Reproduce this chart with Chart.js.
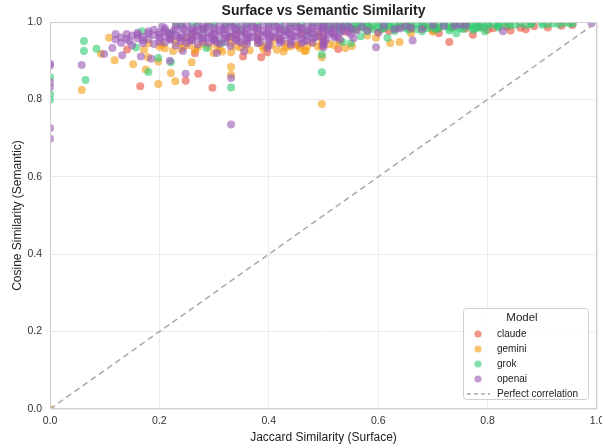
<!DOCTYPE html>
<html>
<head>
<meta charset="utf-8">
<script src="https://cdn.jsdelivr.net/npm/chart.js@4.4.0/dist/chart.umd.min.js"></script>
<style>
html,body{margin:0;padding:0;background:#fff}
</style>
</head>
<body>
<canvas id="canvasSimilitud" width="602" height="444"></canvas>
<script>
// ticks
const ticksEje = [0, 0.2, 0.4, 0.6, 0.8, 1.0];
const modelos = ['claude', 'gemini', 'grok', 'openai'];
const coloresModelo = ['#e74c3c', '#f39c12', '#2ecc71', '#9b59b6'];

// [jaccard, coseno]
const claudePts = [
  [0.141,0.929],[0.165,0.834],[0.248,0.848],[0.265,0.919],[0.271,0.866],[0.297,0.830],[0.353,0.911],[0.386,0.909],
  [0.397,0.922],[0.451,0.941],[0.497,0.938],[0.527,0.930],[0.711,0.971],[0.730,0.948],[0.773,0.967],[0.842,0.978],
  [0.22,0.958],[0.26,0.962],[0.30,0.955],[0.34,0.966],[0.38,0.960],[0.42,0.958],[0.46,0.970],[0.50,0.962],[0.54,0.975],
  [0.56,0.982],[0.585,0.985],[0.61,0.983],[0.635,0.986],[0.66,0.982],[0.685,0.987],[0.71,0.984],[0.735,0.986],
  [0.76,0.983],[0.785,0.987],[0.81,0.984],[0.835,0.988],[0.86,0.985],[0.885,0.989],[0.91,0.986],[0.935,0.990],
  [0.955,0.992],[0.62,0.977],[0.70,0.979],[0.80,0.980],[0.87,0.981]
];
const geminiPts = [
  [0,0],[0.058,0.824],[0.093,0.918],[0.108,0.959],[0.118,0.901],[0.152,0.891],[0.172,0.928],[0.175,0.877],
  [0.179,0.909],[0.198,0.840],[0.198,0.898],[0.221,0.868],[0.229,0.847],[0.259,0.896],[0.299,0.920],[0.331,0.922],
  [0.331,0.884],[0.331,0.864],[0.427,0.924],[0.457,0.933],[0.468,0.926],[0.497,0.959],[0.497,0.948],[0.497,0.909],
  [0.497,0.788],[0.552,0.938],[0.596,0.959],[0.622,0.946],[0.639,0.948],
  [0.18,0.945],[0.205,0.941],[0.23,0.946],[0.255,0.940],[0.28,0.944],[0.305,0.939],[0.33,0.945],[0.355,0.941],
  [0.38,0.946],[0.405,0.940],[0.43,0.944],[0.455,0.940],[0.48,0.946],[0.51,0.943],[0.53,0.948],
  [0.21,0.932],[0.24,0.930],[0.27,0.934],[0.31,0.929],[0.35,0.933],[0.39,0.930],[0.43,0.934],[0.47,0.938],
  [0.20,0.936],[0.225,0.925],[0.245,0.938],[0.265,0.927],[0.29,0.937],[0.315,0.924],[0.34,0.937],[0.365,0.927],
  [0.39,0.938],[0.415,0.928],[0.44,0.937],[0.465,0.925],[0.49,0.936],[0.52,0.940],[0.54,0.933],
  [0.25,0.958],[0.33,0.960],[0.41,0.956],[0.49,0.968],[0.58,0.965],[0.60,0.975],[0.66,0.970],[0.70,0.975]
];
const grokPts = [
  [0,0.857],[0,0.814],[0,0.799],[0.062,0.951],[0.062,0.925],[0.065,0.850],[0.085,0.931],[0.157,0.934],
  [0.168,0.976],[0.180,0.871],[0.198,0.907],[0.221,0.896],[0.286,0.933],[0.314,0.946],[0.331,0.831],[0.497,0.916],
  [0.497,0.870],[0.535,0.948],[0.550,0.946],[0.568,0.963],[0.617,0.959],[0.743,0.971],[0.774,0.980],[0.795,0.976],
  [0.956,0.997],
  [0.24,0.994],[0.27,0.996],[0.30,0.995],[0.32,0.997],[0.34,0.994],[0.36,0.996],[0.38,0.995],[0.40,0.997],
  [0.42,0.994],[0.44,0.996],[0.46,0.995],[0.48,0.997],[0.50,0.996],[0.52,0.998],[0.54,0.995],[0.56,0.997],
  [0.58,0.996],[0.60,0.998],[0.62,0.995],[0.64,0.997],[0.66,0.996],[0.68,0.998],[0.70,0.995],[0.72,0.997],
  [0.74,0.996],[0.76,0.998],[0.78,0.996],[0.80,0.997],[0.82,0.995],[0.84,0.998],[0.86,0.996],[0.88,0.997],
  [0.90,0.998],[0.92,0.996],[0.94,0.998],
  [0.51,0.992],[0.53,0.993],[0.55,0.991],[0.57,0.993],[0.59,0.992],[0.61,0.993],[0.63,0.991],[0.65,0.993],
  [0.67,0.992],[0.69,0.993],[0.71,0.991],[0.73,0.993],[0.75,0.992],[0.77,0.993],[0.79,0.994],[0.81,0.993],
  [0.83,0.994],[0.85,0.993],[0.88,0.995],[0.91,0.995],[0.95,0.996],
  [0.50,0.988],[0.52,0.986],[0.54,0.989],[0.56,0.987],[0.58,0.990],[0.60,0.986],[0.62,0.989],[0.64,0.987],
  [0.66,0.990],[0.68,0.988],[0.70,0.986],[0.72,0.989],[0.74,0.987],[0.76,0.990],[0.78,0.988],[0.80,0.991],
  [0.82,0.989],[0.84,0.991],[0.87,0.992],[0.90,0.993],[0.93,0.994],
  [0.51,0.982],[0.53,0.984],[0.55,0.983],[0.57,0.985],[0.59,0.982],[0.61,0.984],[0.63,0.983],[0.65,0.985],
  [0.67,0.982],[0.69,0.984],[0.71,0.983],[0.73,0.985],[0.75,0.984],[0.77,0.986],[0.79,0.985],[0.82,0.986],
  [0.53,0.978],[0.555,0.980],[0.58,0.976],[0.605,0.981],[0.63,0.977],[0.655,0.980],[0.68,0.976],[0.705,0.981],
  [0.73,0.978],[0.755,0.982],[0.78,0.984],
  [0.22,0.970],[0.28,0.980],[0.35,0.982],[0.43,0.980],[0.47,0.972],
  [0.23,0.998],[0.26,0.999],[0.29,0.998],[0.33,0.999],[0.37,0.998],[0.41,0.999],[0.45,0.998],[0.49,0.999]
];
const openaiPts = [
  [0,0.892],[0,0.887],[0,0.845],[0,0.832],[0,0.726],[0,0.698],[0.058,0.889],[0.099,0.917],[0.114,0.933],
  [0.120,0.969],[0.132,0.914],[0.166,0.911],[0.185,0.905],[0.219,0.900],[0.243,0.925],[0.248,0.866],[0.305,0.920],
  [0.331,0.855],[0.331,0.735],[0.355,0.925],[0.397,0.933],[0.596,0.935],[0.663,0.952],[0.828,0.976],[0.99,0.997],
  [0.23,0.991],[0.25,0.993],[0.27,0.990],[0.29,0.992],[0.31,0.994],[0.33,0.991],[0.35,0.993],[0.37,0.990],
  [0.39,0.993],[0.41,0.991],[0.43,0.993],[0.45,0.990],[0.47,0.993],[0.49,0.991],[0.51,0.993],[0.53,0.995],
  [0.21,0.984],[0.24,0.987],[0.26,0.983],[0.28,0.988],[0.30,0.985],[0.32,0.987],[0.34,0.983],[0.36,0.988],
  [0.38,0.985],[0.40,0.987],[0.42,0.984],[0.44,0.988],[0.46,0.985],[0.48,0.989],[0.50,0.986],[0.52,0.988],
  [0.545,0.990],[0.57,0.988],[0.61,0.991],[0.65,0.990],[0.70,0.992],[0.75,0.993],
  [0.19,0.980],[0.21,0.978],[0.23,0.981],[0.26,0.979],[0.28,0.982],[0.30,0.979],[0.32,0.981],[0.34,0.978],
  [0.36,0.982],[0.38,0.979],[0.40,0.981],[0.42,0.979],[0.44,0.982],[0.46,0.980],[0.48,0.983],[0.50,0.980],
  [0.52,0.982],[0.55,0.984],
  [0.16,0.972],[0.18,0.976],[0.20,0.973],[0.225,0.977],[0.25,0.974],[0.27,0.977],[0.29,0.973],[0.31,0.976],
  [0.33,0.972],[0.35,0.977],[0.37,0.974],[0.39,0.977],[0.41,0.973],[0.43,0.976],[0.45,0.974],[0.47,0.978],
  [0.49,0.975],[0.51,0.977],[0.535,0.979],[0.56,0.978],[0.63,0.981],[0.68,0.982],
  [0.14,0.969],[0.16,0.967],[0.18,0.970],[0.20,0.967],[0.22,0.969],[0.24,0.967],[0.26,0.970],[0.28,0.968],
  [0.30,0.970],[0.32,0.967],[0.34,0.969],[0.36,0.967],[0.38,0.970],[0.40,0.968],[0.42,0.970],[0.44,0.967],
  [0.46,0.969],[0.48,0.970],[0.51,0.970],[0.53,0.972],
  [0.13,0.960],[0.15,0.965],[0.17,0.961],[0.19,0.966],[0.21,0.962],[0.23,0.965],[0.25,0.961],[0.27,0.964],
  [0.29,0.960],[0.31,0.965],[0.33,0.962],[0.35,0.965],[0.37,0.961],[0.39,0.964],[0.41,0.962],[0.43,0.966],
  [0.45,0.962],[0.47,0.965],[0.49,0.963],[0.50,0.958],[0.52,0.966],[0.55,0.968],
  [0.14,0.956],[0.16,0.958],[0.18,0.956],[0.20,0.958],[0.22,0.957],[0.24,0.958],[0.26,0.956],[0.28,0.958],
  [0.30,0.956],[0.32,0.958],[0.34,0.957],[0.36,0.958],[0.38,0.956],[0.40,0.958],[0.42,0.957],[0.44,0.958],
  [0.46,0.956],[0.48,0.958],[0.52,0.960],
  [0.12,0.955],[0.145,0.950],[0.17,0.953],[0.20,0.949],[0.22,0.954],[0.24,0.950],[0.26,0.953],[0.28,0.949],
  [0.30,0.952],[0.32,0.948],[0.34,0.953],[0.36,0.950],[0.38,0.954],[0.40,0.950],[0.42,0.953],[0.44,0.949],
  [0.47,0.952],[0.50,0.950],[0.53,0.955],
  [0.13,0.946],[0.17,0.945],[0.21,0.947],[0.25,0.945],[0.29,0.946],[0.31,0.944],[0.35,0.946],[0.38,0.945],
  [0.42,0.946],[0.46,0.945],[0.48,0.947],
  [0.15,0.940],[0.19,0.943],[0.23,0.939],[0.27,0.942],[0.33,0.938],[0.36,0.943],[0.40,0.940],[0.44,0.942],[0.50,0.941],
  [0.205,0.988],[0.215,0.971],[0.235,0.960],[0.245,0.982],[0.255,0.952],[0.265,0.975],[0.275,0.958],[0.285,0.986],
  [0.295,0.966],[0.305,0.948],[0.315,0.980],[0.325,0.962],[0.335,0.988],[0.345,0.950],[0.355,0.972],[0.365,0.960],
  [0.375,0.985],[0.385,0.948],[0.395,0.970],[0.405,0.962],[0.415,0.987],[0.425,0.951],[0.435,0.973],[0.445,0.963],
  [0.455,0.986],[0.465,0.951],[0.475,0.974],[0.485,0.961],[0.495,0.984],[0.505,0.954],[0.515,0.972],[0.525,0.962],
  [0.535,0.986],[0.545,0.975],[0.555,0.958],
  [0.5,0.935],[0.5,0.945],[0.5,0.970],[0.5,0.990],
  [0.72,0.990],[0.74,0.991],[0.76,0.992],[0.60,0.972],[0.58,0.978],[0.64,0.983],[0.66,0.985]
];
const diagonal = [[0, 0], [1, 1]];

const puntosPorModelo = [claudePts, geminiPts, grokPts, openaiPts];

function alfa(hex, a) {
    const r = parseInt(hex.substr(1, 2), 16), g = parseInt(hex.substr(3, 2), 16), b = parseInt(hex.substr(5, 2), 16);
    return 'rgba(' + r + ',' + g + ',' + b + ',' + a + ')';
}

var datasets = modelos.map(function(m, i) {
    return {
        type: 'scatter',
        label: m,
        data: puntosPorModelo[i].map(p => ({ x: p[0], y: p[1] })),
        backgroundColor: alfa(coloresModelo[i], 0.6),
        borderWidth: 0,
        pointRadius: 4,
        pointHoverRadius: 4,
        clip: 0,
        order: 4 - i + 1
    };
});
datasets.push({
    type: 'line',
    label: 'Perfect correlation',
    data: diagonal.map(p => ({ x: p[0], y: p[1] })),
    borderColor: '#a9a9a9',
    borderWidth: 1.5,
    borderDash: [6, 4],
    pointRadius: 0,
    fill: false,
    clip: 0,
    order: 0
});

const fuente = "'Liberation Sans', Arial, sans-serif";

// titulo, marco y leyenda
const extrasPlugin = {
    id: 'extras',
    afterDraw(chart) {
        const ctx = chart.ctx, a = chart.chartArea;
        ctx.save();
        ctx.strokeStyle = '#cfcfcf';
        ctx.lineWidth = 1;
        ctx.strokeRect(a.left + 0.5, a.top + 0.5, a.right - a.left - 1, a.bottom - a.top - 1);

        ctx.fillStyle = '#222';
        ctx.font = "bold 14px " + fuente;
        ctx.textAlign = 'center';
        ctx.textBaseline = 'middle';
        ctx.fillText('Surface vs Semantic Similarity', (a.left + a.right) / 2, 11);

        // leyenda
        const bx = 463, by = 308, bw = 125, bh = 91;
        ctx.fillStyle = 'rgba(255,255,255,0.85)';
        ctx.strokeStyle = '#d0d0d0';
        ctx.beginPath();
        ctx.roundRect(bx + 0.5, by + 0.5, bw, bh, 3);
        ctx.fill();
        ctx.stroke();
        ctx.fillStyle = '#222';
        ctx.font = "11.5px " + fuente;
        ctx.fillText('Model', 522, 318);
        ctx.font = "10px " + fuente;
        ctx.textAlign = 'left';
        for (let i = 0; i < modelos.length; i++) {
            const yy = 334 + i * 15;
            ctx.fillStyle = alfa(coloresModelo[i], 0.6);
            ctx.beginPath();
            ctx.arc(478, yy, 3.6, 0, Math.PI * 2);
            ctx.fill();
            ctx.fillStyle = '#222';
            ctx.fillText(modelos[i], 497, yy);
        }
        ctx.strokeStyle = '#a9a9a9';
        ctx.lineWidth = 1.5;
        ctx.setLineDash([4, 3]);
        ctx.beginPath();
        ctx.moveTo(467, 394);
        ctx.lineTo(490, 394);
        ctx.stroke();
        ctx.setLineDash([]);
        ctx.fillStyle = '#222';
        ctx.fillText('Perfect correlation', 497, 394);
        ctx.restore();
    }
};

var ctx = document.getElementById('canvasSimilitud').getContext('2d');
var graficaSimilitud = new Chart(ctx, {
    data: { datasets: datasets },
    options: {
        responsive: false,
        animation: false,
        events: [],
        layout: { padding: { top: 22, right: 5, left: 0, bottom: 0 } },
        plugins: { legend: { display: false }, title: { display: false }, tooltip: { enabled: false } },
        scales: {
            x: {
                type: 'linear', min: 0, max: 1,
                afterFit: s => { s.height = 35; s.paddingLeft = 0; s.paddingRight = 0; },
                afterBuildTicks: s => { s.ticks = ticksEje.map(v => ({ value: v })); },
                grid: { color: '#ebebeb', drawTicks: false },
                border: { display: false },
                ticks: { color: '#333', font: { size: 10.5, family: fuente }, padding: 6, callback: v => v.toFixed(1) },
                title: { display: true, text: 'Jaccard Similarity (Surface)', color: '#222', font: { size: 12, family: fuente }, padding: { top: 0, bottom: -1 } }
            },
            y: {
                type: 'linear', min: 0, max: 1,
                afterFit: s => { s.width = 50; s.paddingTop = 0; s.paddingBottom = 0; },
                afterBuildTicks: s => { s.ticks = ticksEje.map(v => ({ value: v })); },
                grid: { color: '#ebebeb', drawTicks: false },
                border: { display: false },
                ticks: { color: '#333', font: { size: 10.5, family: fuente }, padding: 8, callback: v => v.toFixed(1) },
                title: { display: true, text: 'Cosine Similarity (Semantic)', color: '#222', font: { size: 12, family: fuente }, padding: { top: 10, bottom: 0 } }
            }
        }
    },
    plugins: [extrasPlugin]
});
</script>
</body>
</html>
